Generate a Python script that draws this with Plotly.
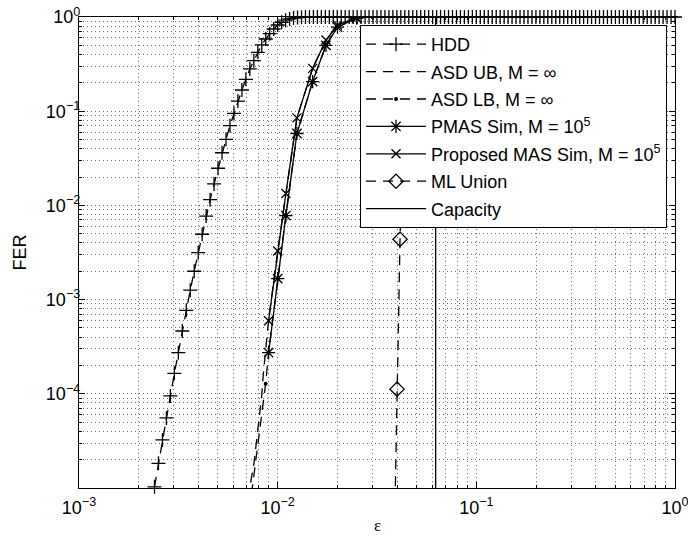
import numpy as np
import plotly.graph_objects as go

# ---------------- data ----------------
# HDD: log-spaced epsilon grid (50 points / decade), FER read per marker
hdd_eps = np.logspace(-2.62, 0, 132)
hdd_fer = [
    1.03e-5, 1.83e-5, 3.24e-5, 5.54e-5, 9.5e-5, 1.65e-4, 2.73e-4, 4.64e-4, 7.7e-4, 1.26e-3,
    2.0e-3, 3.15e-3, 4.94e-3, 7.7e-3, 0.0115, 0.0169, 0.0248, 0.0362, 0.0503, 0.0702,
    0.095, 0.128, 0.168, 0.218, 0.281, 0.344, 0.422, 0.505, 0.584, 0.665,
    0.746, 0.822, 0.88, 0.925, 0.955, 0.975, 0.987, 0.994, 0.997, 0.999,
    1.0, 1.0, 1.0, 1.0, 1.0, 1.0, 1.0, 1.0, 1.0, 1.0,
    1.0, 1.0, 1.0, 1.0, 1.0, 1.0, 1.0, 1.0, 1.0, 1.0,
    1.0, 1.0, 1.0, 1.0, 1.0, 1.0, 1.0, 1.0, 1.0, 1.0,
    1.0, 1.0, 1.0, 1.0, 1.0, 1.0, 1.0, 1.0, 1.0, 1.0,
    1.0, 1.0, 1.0, 1.0, 1.0, 1.0, 1.0, 1.0, 1.0, 1.0,
    1.0, 1.0, 1.0, 1.0, 1.0, 1.0, 1.0, 1.0, 1.0, 1.0,
    1.0, 1.0, 1.0, 1.0, 1.0, 1.0, 1.0, 1.0, 1.0, 1.0,
    1.0, 1.0, 1.0, 1.0, 1.0, 1.0, 1.0, 1.0, 1.0, 1.0,
    1.0, 1.0, 1.0, 1.0, 1.0, 1.0, 1.0, 1.0, 1.0, 1.0,
    1.0, 1.0,
]

asd_ub_eps = [0.0070, 0.00723, 0.0076, 0.00784, 0.00808, 0.00831, 0.00846, 0.009,
              0.010, 0.011, 0.0125, 0.015, 0.0175, 0.020, 0.025, 0.030]
asd_ub_fer = [5.0e-6, 1.0e-5, 1.83e-5, 3.24e-5, 5.5e-5, 9.5e-5, 1.58e-4, 6.0e-4,
              3.3e-3, 1.34e-2, 0.085, 0.285, 0.57, 0.82, 0.98, 1.0]

asd_lb_eps = [0.0072, 0.0087, 0.009, 0.010, 0.011, 0.0125, 0.015, 0.0175, 0.020, 0.025, 0.030]
asd_lb_fer = [5.7e-6, 1.28e-4, 2.73e-4, 1.67e-3, 7.8e-3, 0.058, 0.206, 0.50, 0.78, 0.97, 1.0]

sim_eps = [0.009, 0.010, 0.011, 0.0125, 0.015, 0.0175, 0.020, 0.025]
pmas_fer = [2.73e-4, 1.67e-3, 7.8e-3, 0.058, 0.206, 0.50, 0.78, 0.97]
mas_fer = [5.97e-4, 3.28e-3, 1.34e-2, 0.085, 0.285, 0.57, 0.82, 0.98]

ml_eps = [0.0387, 0.0399, 0.0413, 0.0425]
ml_fer = [3.0e-6, 1.12e-4, 4.37e-3, 5.0e-2]

capacity_eps = [0.0624, 0.0624]
capacity_fer = [1e-6, 1.0]

names = ["HDD", "ASD UB, M = ∞", "ASD LB, M = ∞", "PMAS Sim, M = 10<sup>5</sup>",
         "Proposed MAS Sim, M = 10<sup>5</sup>", "ML Union", "Capacity"]

x_tickvals = [1e-3, 1e-2, 1e-1, 1]
x_ticktext = ["10<sup>−3</sup>", "10<sup>−2</sup>", "10<sup>−1</sup>", "10<sup>0</sup>"]
y_tickvals = [1e-4, 1e-3, 1e-2, 1e-1, 1]
y_ticktext = ["10<sup>−4</sup>", "10<sup>−3</sup>", "10<sup>−2</sup>", "10<sup>−1</sup>", "10<sup>0</sup>"]

# ---------------- styling ----------------
K = "black"
LW = 1.3
DASH = "10px,7px"
FONT = "Liberation Sans, Arial, sans-serif"

fig = go.Figure()

fig.add_trace(go.Scatter(
    x=hdd_eps, y=hdd_fer, name=names[0], mode="lines+markers", legendgroup="a",
    line=dict(color=K, width=LW, dash=DASH),
    marker=dict(symbol="cross-thin-open", size=10, color=K, line=dict(color=K, width=LW)),
    cliponaxis=False))
fig.add_trace(go.Scatter(
    x=asd_ub_eps, y=asd_ub_fer, name=names[1], mode="lines", legendgroup="b",
    line=dict(color=K, width=LW, dash=DASH)))
fig.add_trace(go.Scatter(
    x=asd_lb_eps, y=asd_lb_fer, name=names[2], mode="lines+markers", legendgroup="c",
    line=dict(color=K, width=LW, dash=DASH),
    marker=dict(symbol="circle", size=4, color=K)))
fig.add_trace(go.Scatter(
    x=sim_eps, y=pmas_fer, name=names[3], mode="lines+markers", legendgroup="d",
    line=dict(color=K, width=LW),
    marker=dict(symbol="asterisk-open", size=11, color=K, line=dict(color=K, width=LW))))
fig.add_trace(go.Scatter(
    x=sim_eps, y=mas_fer, name=names[4], mode="lines+markers", legendgroup="e",
    line=dict(color=K, width=LW),
    marker=dict(symbol="x-thin-open", size=9, color=K, line=dict(color=K, width=LW))))
fig.add_trace(go.Scatter(
    x=ml_eps, y=ml_fer, name=names[5], mode="lines+markers", legendgroup="f",
    line=dict(color=K, width=LW, dash=DASH),
    marker=dict(symbol="diamond-open", size=11, color=K, line=dict(color=K, width=LW))))
fig.add_trace(go.Scatter(
    x=capacity_eps, y=capacity_fer, name=names[6], mode="lines", legendgroup="g",
    line=dict(color=K, width=LW)))

minor_vals = [m * 10.0 ** e for e in range(-6, 1) for m in range(2, 10)]
GRIDC = "#6a6a6a"
GRIDDASH = "1px,3px"

axis_common = dict(
    type="log", showline=True, linecolor=K, linewidth=1.3, mirror="allticks",
    ticks="inside", ticklen=6, tickwidth=1, tickcolor=K,
    showgrid=True, gridcolor=GRIDC, gridwidth=1, griddash=GRIDDASH,
    zeroline=False, tickfont=dict(family=FONT, size=18, color=K),
    ticklabeloverflow="allow",
    minor=dict(tickvals=minor_vals, ticks="inside", ticklen=3, tickcolor=K,
               showgrid=True, gridcolor=GRIDC, gridwidth=1, griddash=GRIDDASH),
)

fig.update_xaxes(**axis_common, range=[-3, 0], tickmode="array",
                 tickvals=x_tickvals, ticktext=x_ticktext, ticklabelstandoff=3)
fig.update_yaxes(**axis_common, range=[-5, 0], tickmode="array",
                 tickvals=y_tickvals, ticktext=y_ticktext, ticklabelstandoff=-6,
                 title=dict(text="FER", font=dict(family=FONT, size=18, color=K), standoff=14))

fig.add_annotation(text="ε", xref="paper", yref="paper", x=0.5, y=-0.079,
                   xanchor="center", yanchor="middle", showarrow=False,
                   font=dict(family="Liberation Serif, Times New Roman, serif", size=17, color=K))

fig.update_layout(
    width=688, height=537,
    margin=dict(l=79, r=13, t=17, b=49, autoexpand=False),
    paper_bgcolor="white", plot_bgcolor="white",
    font=dict(family=FONT, size=18, color=K),
    showlegend=True,
    legend=dict(x=0.4715, y=0.983, xanchor="left", yanchor="top",
                bgcolor="white", bordercolor=K, borderwidth=1,
                font=dict(family=FONT, size=18, color=K),
                traceorder="grouped", tracegroupgap=1, itemwidth=60),
)

fig.write_html("out.html", config={"displayModeBar": False},
               post_script="document.body.style.margin='0';document.body.style.overflow='hidden';")
